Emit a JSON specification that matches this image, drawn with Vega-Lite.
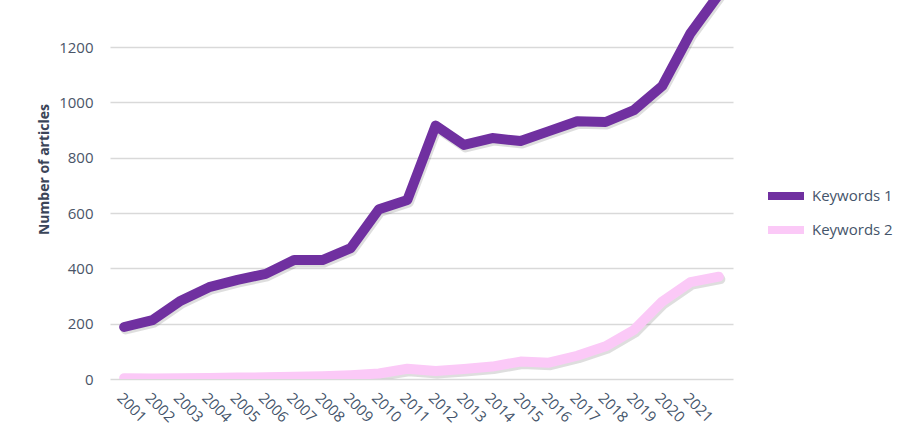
{
  "$schema": "https://vega.github.io/schema/vega-lite/v6.json",
  "width": 623,
  "height": 379,
  "autosize": "none",
  "padding": {"left": 110, "top": 0, "right": 187, "bottom": 46},
  "background": "white",
  "config": {
    "view": {"stroke": null},
    "font": "Open Sans"
  },
  "datasets": {
    "articles": [
      {"year": "2001", "series": "Keywords 1", "count": 188},
      {"year": "2002", "series": "Keywords 1", "count": 213},
      {"year": "2003", "series": "Keywords 1", "count": 283},
      {"year": "2004", "series": "Keywords 1", "count": 332},
      {"year": "2005", "series": "Keywords 1", "count": 358},
      {"year": "2006", "series": "Keywords 1", "count": 380},
      {"year": "2007", "series": "Keywords 1", "count": 430},
      {"year": "2008", "series": "Keywords 1", "count": 430},
      {"year": "2009", "series": "Keywords 1", "count": 473},
      {"year": "2010", "series": "Keywords 1", "count": 614},
      {"year": "2011", "series": "Keywords 1", "count": 647},
      {"year": "2012", "series": "Keywords 1", "count": 916},
      {"year": "2013", "series": "Keywords 1", "count": 846},
      {"year": "2014", "series": "Keywords 1", "count": 871},
      {"year": "2015", "series": "Keywords 1", "count": 860},
      {"year": "2016", "series": "Keywords 1", "count": 896},
      {"year": "2017", "series": "Keywords 1", "count": 932},
      {"year": "2018", "series": "Keywords 1", "count": 929},
      {"year": "2019", "series": "Keywords 1", "count": 972},
      {"year": "2020", "series": "Keywords 1", "count": 1059},
      {"year": "2021", "series": "Keywords 1", "count": 1250},
      {"year": "2022", "series": "Keywords 1", "count": 1390},
      {"year": "2001", "series": "Keywords 2", "count": 3},
      {"year": "2002", "series": "Keywords 2", "count": 2},
      {"year": "2003", "series": "Keywords 2", "count": 3},
      {"year": "2004", "series": "Keywords 2", "count": 4},
      {"year": "2005", "series": "Keywords 2", "count": 5},
      {"year": "2006", "series": "Keywords 2", "count": 6},
      {"year": "2007", "series": "Keywords 2", "count": 8},
      {"year": "2008", "series": "Keywords 2", "count": 10},
      {"year": "2009", "series": "Keywords 2", "count": 14},
      {"year": "2010", "series": "Keywords 2", "count": 20},
      {"year": "2011", "series": "Keywords 2", "count": 37},
      {"year": "2012", "series": "Keywords 2", "count": 29},
      {"year": "2013", "series": "Keywords 2", "count": 36},
      {"year": "2014", "series": "Keywords 2", "count": 45},
      {"year": "2015", "series": "Keywords 2", "count": 63},
      {"year": "2016", "series": "Keywords 2", "count": 59},
      {"year": "2017", "series": "Keywords 2", "count": 84},
      {"year": "2018", "series": "Keywords 2", "count": 118},
      {"year": "2019", "series": "Keywords 2", "count": 177},
      {"year": "2020", "series": "Keywords 2", "count": 280},
      {"year": "2021", "series": "Keywords 2", "count": 350},
      {"year": "2022", "series": "Keywords 2", "count": 370}
    ]
  },
  "data": {"name": "articles"},
  "encoding": {
    "x": {
      "field": "year",
      "type": "ordinal",
      "scale": {"type": "point", "padding": 0.5},
      "axis": {
        "title": null,
        "values": ["2001","2002","2003","2004","2005","2006","2007","2008","2009","2010","2011","2012","2013","2014","2015","2016","2017","2018","2019","2020","2021"],
        "labelAngle": 45,
        "labelAlign": "left",
        "labelBaseline": "top",
        "labelPadding": 11,
        "labelFontSize": 15,
        "labelColor": "#44546a",
        "labelFont": "Open Sans",
        "domain": false,
        "ticks": false,
        "grid": false
      }
    },
    "y": {
      "field": "count",
      "type": "quantitative",
      "scale": {"domain": [0, 1370], "nice": false},
      "axis": {
        "title": "Number of articles",
        "values": [0, 200, 400, 600, 800, 1000, 1200],
        "format": "d",
        "grid": true,
        "gridColor": "#d9d9d9",
        "gridWidth": 1.5,
        "domain": false,
        "ticks": false,
        "labelPadding": 17,
        "labelFontSize": 15,
        "labelColor": "#4a5568",
        "labelFont": "Open Sans",
        "titleFont": "Open Sans",
        "titleFontSize": 14,
        "titleFontWeight": "bold",
        "titleColor": "#3b4558",
        "titleX": -66,
        "titleY": 169,
        "titleAlign": "center",
        "titleBaseline": "middle",
        "titleAngle": -90
      }
    }
  },
  "layer": [
    {
      "mark": {"type": "line", "strokeWidth": 10, "strokeCap": "round", "strokeJoin": "round", "color": "#000000", "opacity": 0.13, "xOffset": 1.5, "yOffset": 2.5, "clip": true},
      "encoding": {"detail": {"field": "series"}}
    },
    {
      "mark": {"type": "line", "strokeWidth": 10, "strokeCap": "round", "strokeJoin": "round", "clip": true},
      "encoding": {
        "color": {
          "field": "series",
          "type": "nominal",
          "scale": {"domain": ["Keywords 1", "Keywords 2"], "range": ["#7030a0", "#fbc9f7"]},
          "legend": {
            "title": null,
            "orient": "none",
            "legendX": 662,
            "legendY": 182,
            "symbolType": "M-1.8,0H1.8",
            "symbolSize": 400,
            "symbolStrokeWidth": 8,
            "labelFontSize": 15,
            "labelColor": "#44546a",
            "labelFont": "Open Sans",
            "labelOffset": 12,
            "rowPadding": 2
          }
        }
      }
    }
  ]
}
